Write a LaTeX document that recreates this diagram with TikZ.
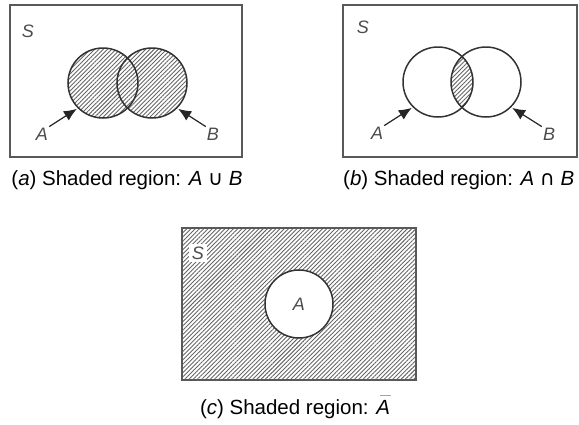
\documentclass[tikz,border=0pt]{standalone}
\usepackage{fontspec}
\setmainfont{Liberation Sans}
\newfontfamily\symfont{DejaVu Sans}
\usetikzlibrary{arrows.meta,patterns.meta}
\tikzset{
  frame/.style={draw=black!65, line width=2pt},
  setcirc/.style={circle, draw=black!80, line width=1.5pt, minimum size=70pt, inner sep=0pt},
  hatch/.style={pattern={Lines[angle=45,distance=3pt,line width=0.9pt]}, pattern color=black!60},
  lbl/.style={font=\fontsize{18}{20}\selectfont\itshape, text=black!70, inner sep=1pt},
  caption/.style={font=\fontsize{20.5}{24}\selectfont, inner sep=0pt},
  pointer/.style={-{Latex[length=13pt,width=11pt]}, draw=black!85, fill=black!85, line width=1.2pt, shorten >=1pt}
}
\begin{document}
\begin{tikzpicture}[x=1pt, y=-1pt]
\useasboundingbox (0,0) rectangle (579,424);
% (a) union
\draw[frame] (10,5) rectangle (242,157);
\fill[hatch] (103,83) circle (35) (152,83) circle (35);
\node[setcirc] (aA) at (103,83) {};
\node[setcirc] (aB) at (152,83) {};
\node[lbl] (aS) at (28,31) {S};
\node[lbl] (aLA) at (42,134) {A};
\node[lbl] (aLB) at (213,134) {B};
\draw[pointer] (aLA.north east) -- (aA.225);
\draw[pointer] (aLB.north west) -- (aB.-45);
\node[caption] (capa) at (127,180) {(\textit{a}) Shaded region: \textit{A} {\symfont ∪} \textit{B}};
% (b) intersection
\draw[frame] (343,5) rectangle (577,157);
\begin{scope}
  \clip (438,82) circle (35);
  \fill[hatch] (486,82) circle (35);
\end{scope}
\node[setcirc] (bA) at (438,82) {};
\node[setcirc] (bB) at (486,82) {};
\node[lbl] (bS) at (363,27) {S};
\node[lbl] (bLA) at (377,133) {A};
\node[lbl] (bLB) at (549,134) {B};
\draw[pointer] (bLA.north east) -- (bA.225);
\draw[pointer] (bLB.north west) -- (bB.-45);
\node[caption, anchor=west] (capb) at (343,180) {(\textit{b}) Shaded region: \textit{A} {\symfont ∩} \textit{B}};
% (c) complement
\fill[hatch, even odd rule] (182,228) rectangle (416,380) (299,304) circle (34);
\draw[frame] (182,228) rectangle (416,380);
\node[setcirc, minimum size=68pt] (cA) at (299,304) {};
\node[lbl] at (cA) {A};
\node[lbl, fill=white, inner sep=3pt] (cS) at (198,253) {S};
\node[caption] (capc) at (295,409) {(\textit{c}) Shaded region: \textit{A}};
\draw[black!35, line width=1.2pt] ([xshift=-10pt, yshift=4pt]capc.north east) -- ++(11,0);
\end{tikzpicture}
\end{document}
